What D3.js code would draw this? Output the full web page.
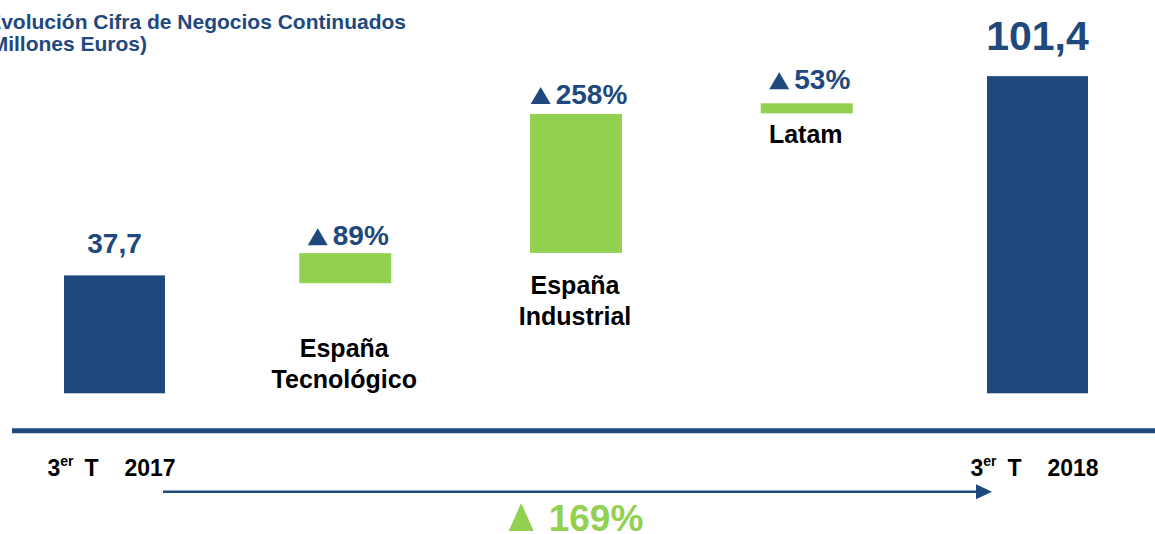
<!DOCTYPE html>
<html>
<head>
<meta charset="utf-8">
<script src="https://cdn.jsdelivr.net/npm/d3@7"></script>
<style>
  body { margin: 0; background: #fff; }
  text { font-family: "Liberation Sans", Arial, sans-serif; font-weight: bold; }
</style>
</head>
<body>
<div id="chart"></div>
<script>
// Data
var categories = ["3er T 2017", "España Tecnológico", "España Industrial", "Latam", "3er T 2018"];
var startValue = 37.7;
var endValue = 101.4;
var startLabel = "37,7";
var endLabel = "101,4";
// green steps: where each one begins and ends on the value axis
var stepNames = ["España Tecnológico", "España Industrial", "Latam"];
var stepLow = [35.2, 44.9, 89.5];
var stepHigh = [44.8, 89.3, 92.7];
var stepGrowth = ["89%", "258%", "53%"];
var stepLines = [["España", "Tecnológico"], ["España", "Industrial"], ["Latam"]];
var totalGrowth = "169%";
var periodMain = ["3", "3"];
var periodYear = ["2017", "2018"];

var blue = "#1F497D";
var green = "#92D050";

var svgWidth = 1155;
var svgHeight = 534;

var svg = d3.select("#chart").append("svg")
  .attr("width", svgWidth)
  .attr("height", svgHeight);

var xScale = d3.scalePoint().domain(categories).range([114.5, 1037.5]);
var yScale = d3.scaleLinear().domain([0, 100]).range([393.3, 80.5]);

var blueWidth = 101;
var greenWidth = 92;

// title (clipped at the left edge like the original)
var title = svg.append("g").attr("fill", blue).attr("font-size", 21).attr("text-anchor", "end");
title.append("text").attr("x", 406).attr("y", 29).text("Evolución Cifra de Negocios Continuados");
title.append("text").attr("x", 147).attr("y", 51).text("(Millones Euros)");

// start and end bars
var totals = [
  { cat: categories[0], value: startValue, label: startLabel, size: 28, gap: 22 },
  { cat: categories[4], value: endValue, label: endLabel, size: 41, gap: 26 }
];

svg.selectAll("rect.total")
  .data(totals)
  .enter()
  .append("rect")
  .attr("class", "total")
  .attr("x", d => xScale(d.cat) - blueWidth / 2)
  .attr("y", d => yScale(d.value))
  .attr("width", blueWidth)
  .attr("height", d => yScale(0) - yScale(d.value))
  .attr("fill", blue);

svg.selectAll("text.total")
  .data(totals)
  .enter()
  .append("text")
  .attr("class", "total")
  .attr("x", d => xScale(d.cat))
  .attr("y", d => yScale(d.value) - d.gap)
  .attr("text-anchor", "middle")
  .attr("font-size", d => d.size)
  .attr("fill", blue)
  .text(d => d.label);

// green steps
var steps = stepNames.map((n, i) => ({ cat: n, low: stepLow[i], high: stepHigh[i], growth: stepGrowth[i], lines: stepLines[i] }));

svg.selectAll("rect.step")
  .data(steps)
  .enter()
  .append("rect")
  .attr("class", "step")
  .attr("x", d => xScale(d.cat) - greenWidth / 2)
  .attr("y", d => yScale(d.high))
  .attr("width", greenWidth)
  .attr("height", d => yScale(d.low) - yScale(d.high))
  .attr("fill", green);

// growth labels with the small triangle (gap above each bar as placed in the original)
var growthGaps = [8, 10, 14];
var growthGroups = svg.selectAll("g.growth")
  .data(steps)
  .enter()
  .append("g")
  .attr("class", "growth")
  .attr("transform", (d, i) => `translate(${xScale(d.cat)}, ${yScale(d.high) - growthGaps[i]})`);

growthGroups.each(function(d) {
  var g = d3.select(this);
  var t = g.append("text")
    .attr("font-size", 28)
    .attr("fill", blue)
    .text(d.growth);
  var w = t.node().getComputedTextLength();
  var total = 20 + 5 + w;
  var left = -total / 2 + 3;
  g.append("path")
    .attr("d", `M${left},0 L${left + 20},0 L${left + 10},-17 Z`)
    .attr("fill", blue);
  t.attr("x", left + 25);
});

// category labels under the steps
var labelBaselines = [357, 293.5, 143];
svg.selectAll("text.cat")
  .data(steps)
  .enter()
  .append("text")
  .attr("class", "cat")
  .attr("x", d => xScale(d.cat) - 1)
  .attr("y", (d, i) => labelBaselines[i])
  .attr("text-anchor", "middle")
  .attr("font-size", 25)
  .attr("fill", "#000")
  .each(function(d) {
    var el = d3.select(this);
    d.lines.forEach((line, j) => {
      el.append("tspan")
        .attr("x", xScale(d.cat) - 1)
        .attr("dy", j === 0 ? 0 : 31)
        .text(line);
    });
  });

// baseline rule
svg.append("line")
  .attr("x1", 12).attr("x2", svgWidth)
  .attr("y1", 430.8).attr("y2", 430.8)
  .attr("stroke", blue)
  .attr("stroke-width", 5);

// period labels "3er T  year"
[categories[0], categories[4]].forEach((cat, i) => {
  var left = xScale(cat) - 67;
  var t = svg.append("text")
    .attr("x", left)
    .attr("y", 476)
    .attr("font-size", 23)
    .attr("fill", "#000");
  t.append("tspan").text(periodMain[i]);
  t.append("tspan").attr("font-size", 14).attr("dy", -10).text("er");
  t.append("tspan").attr("x", left + 37).attr("dy", 10).text("T");
  t.append("tspan").attr("x", left + 77).text(periodYear[i]);
});

// arrow across the period
var arrowY = 491.7;
var arrowStart = xScale(categories[0]) + blueWidth / 2 - 2;
var arrowTip = xScale(categories[4]) - blueWidth / 2 + 5;
svg.append("line")
  .attr("x1", arrowStart).attr("x2", arrowTip - 14)
  .attr("y1", arrowY).attr("y2", arrowY)
  .attr("stroke", blue)
  .attr("stroke-width", 2.5);
svg.append("path")
  .attr("d", `M${arrowTip - 16},${arrowY - 7.5} L${arrowTip},${arrowY} L${arrowTip - 16},${arrowY + 7.5} Z`)
  .attr("fill", blue);

// total growth in green
var tg = svg.append("g").attr("transform", `translate(${xScale(categories[2])}, 531)`);
var tgText = tg.append("text")
  .attr("font-size", 37)
  .attr("fill", green)
  .text(totalGrowth);
var tgw = tgText.node().getComputedTextLength();
var tgLeft = -(25 + 15 + tgw) / 2;
tg.append("path")
  .attr("d", `M${tgLeft},0 L${tgLeft + 25},0 L${tgLeft + 12.5},-28 Z`)
  .attr("fill", green);
tgText.attr("x", tgLeft + 40);
</script>
</body>
</html>
